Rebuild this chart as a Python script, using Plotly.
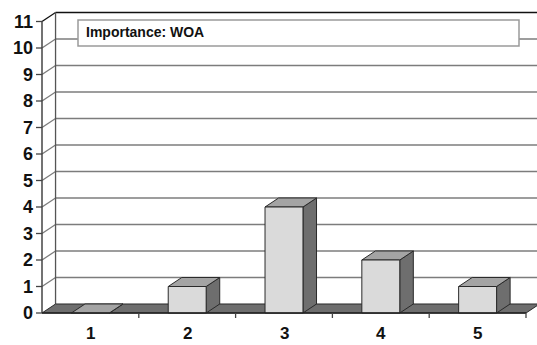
import plotly.graph_objects as go

# Data
categories = ["1", "2", "3", "4", "5"]
counts = [0, 1, 4, 2, 1]
y_ticks = list(range(0, 12))
title_text = "Importance: WOA"

# 3D look parameters (in data units)
DX = 0.14      # depth shift along x (categories)
DY = 0.34      # depth shift along y (values)
HALF_W = 0.196 # half width of the bar front face
Y_MAX = 11

FONT = "Liberation Sans, Arial, sans-serif"
FRONT = "#dadada"
SIDE = "#6e6e6e"
TOP = "#a4a4a4"
FLOOR = "#6e6e6e"
EDGE = "#2a2a2a"
GRID = "#7c7c7c"

n = len(categories)
x_lo, x_hi = 0.5, n + 0.5
px_per_cat = 96.8
px_per_unit = 26.5
W, H = 537, 345
left_margin = 36
axis_px = 42            # pixel column of the front value axis
zero_px = 313           # pixel row of the front zero line

x_start = x_lo - (axis_px - left_margin) / px_per_cat
x_end = x_start + (W - left_margin) / px_per_cat
y_bottom = -(H - zero_px) / px_per_unit
y_top = zero_px / px_per_unit

fig = go.Figure()


def poly(xs, ys, fill, line_color=EDGE, width=1):
    fig.add_trace(go.Scatter(
        x=xs + [xs[0]], y=ys + [ys[0]], mode="lines", fill="toself",
        fillcolor=fill, line=dict(color=line_color, width=width),
        hoverinfo="skip", showlegend=False))


def seg(xs, ys, color=GRID, width=1.5):
    fig.add_trace(go.Scatter(
        x=xs, y=ys, mode="lines", line=dict(color=color, width=width),
        hoverinfo="skip", showlegend=False))


# back wall grid lines and left wall diagonals
for v in y_ticks[1:]:
    col = "#111111" if v == Y_MAX else GRID
    seg([x_lo + DX, x_end + 0.1], [v + DY, v + DY], color=col, width=1.6)
    seg([x_lo, x_lo + DX], [v, v + DY], color=col, width=1.3)

# back-left vertical edge of the wall
seg([x_lo + DX, x_lo + DX], [DY, Y_MAX + DY], color="#555555", width=1.3)

# floor
poly([x_lo, x_hi, x_hi + DX, x_lo + DX], [0, 0, DY, DY], FLOOR, EDGE, 1)

# bars
for i, v in enumerate(counts):
    c = i + 1
    l, r = c - HALF_W, c + HALF_W
    poly([r, r + DX, r + DX, r], [0, DY, v + DY, v], SIDE)            # side face
    poly([l, r, r + DX, l + DX], [v, v, v + DY, v + DY], TOP)         # top face
    if v > 0:
        poly([l, r, r, l], [0, 0, v, v], FRONT)                       # front face

# front axis lines
seg([x_lo, x_lo], [0, Y_MAX], color="#444444", width=1.5)
seg([x_lo, x_hi], [0, 0], color="#222222", width=1.5)

# value-axis tick marks
tick_dx = 6 / px_per_cat
for t in y_ticks:
    seg([x_lo - tick_dx, x_lo], [t, t], color="#444444", width=1.3)

# ticks at category boundaries
for b in range(1, n + 1):
    seg([b + 0.5, b + 0.5], [0, -5 / px_per_unit], color="#444444", width=1.3)

# category labels
for i, lab in enumerate(categories):
    fig.add_annotation(
        x=i + 1, y=-31 / px_per_unit, xref="x", yref="y", text=lab,
        showarrow=False, font=dict(family=FONT, size=17, color="#111111", weight="bold"),
        xanchor="center", yanchor="bottom", borderpad=0)

# chart title box
plot_w = W - left_margin
def px_x(p):
    return (p - left_margin) / plot_w
def px_y(p):
    return (H - p) / H

fig.add_shape(type="rect", xref="paper", yref="paper",
              x0=px_x(78), x1=px_x(519), y0=px_y(46), y1=px_y(20),
              fillcolor="white", line=dict(color="#9a9a9a", width=1.5), layer="above")
fig.add_annotation(
    x=px_x(84), y=px_y(32.5), xref="paper", yref="paper",
    text=title_text, showarrow=False, xanchor="left", yanchor="middle",
    font=dict(family=FONT, size=14, color="#111111", weight="bold"))

fig.update_layout(
    width=W, height=H,
    margin=dict(l=left_margin, r=0, t=0, b=0),
    paper_bgcolor="white", plot_bgcolor="white",
    xaxis=dict(range=[x_start, x_end], showgrid=False, zeroline=False,
               showticklabels=False, ticks="", showline=False, fixedrange=True),
    yaxis=dict(range=[y_bottom, y_top], showgrid=False, zeroline=False,
               tickvals=y_ticks, ticktext=[str(t) for t in y_ticks],
               ticks="", ticklabelstandoff=2,
               tickfont=dict(family=FONT, size=18, color="#111111", weight="bold"),
               showline=False, fixedrange=True),
)

fig.write_html("out.html")
